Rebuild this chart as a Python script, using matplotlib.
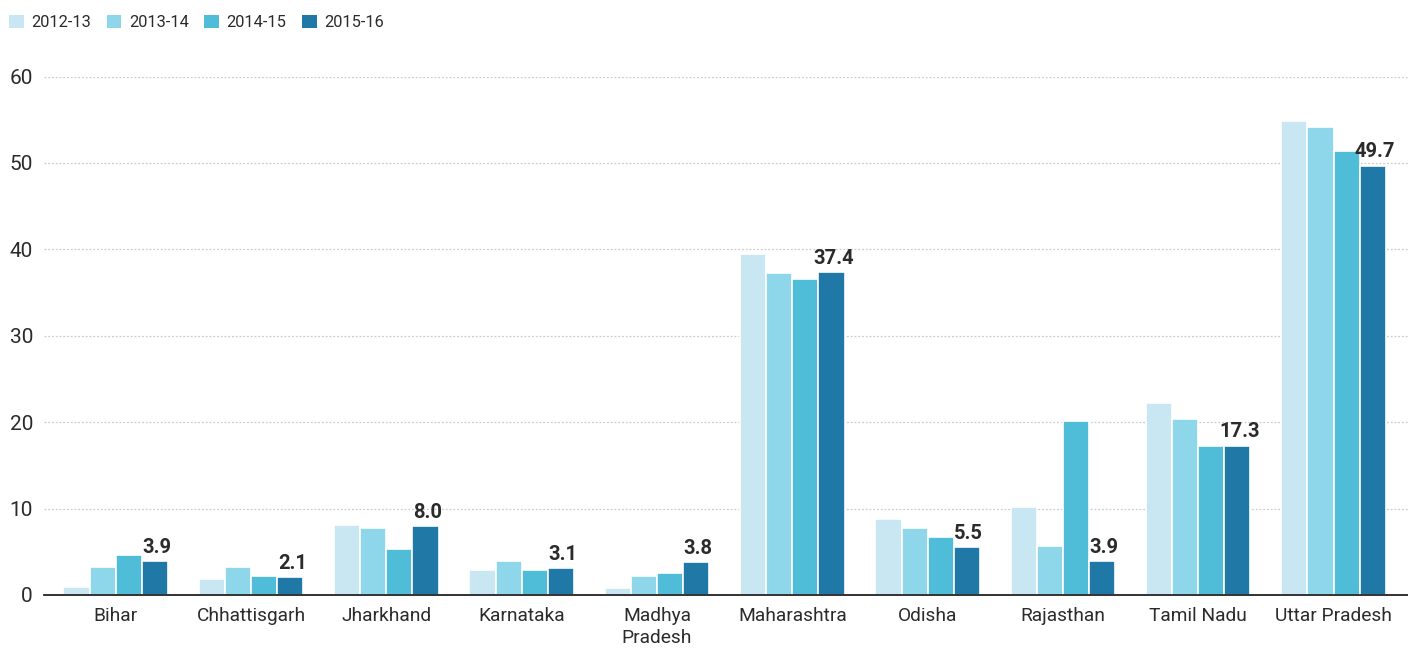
import numpy as np
import matplotlib
matplotlib.use("Agg")
from matplotlib import pyplot as plt
from matplotlib.patches import Patch

plt.rcParams['font.family'] = ['Roboto', 'DejaVu Sans']

states = ['Bihar', 'Chhattisgarh', 'Jharkhand', 'Karnataka', 'Madhya\nPradesh',
          'Maharashtra', 'Odisha', 'Rajasthan', 'Tamil Nadu', 'Uttar Pradesh']
years = ['2012-13', '2013-14', '2014-15', '2015-16']

v2012 = [0.9, 1.9, 8.1, 2.9, 0.8, 39.5, 8.8, 10.2, 22.2, 54.9]
v2013 = [3.2, 3.2, 7.8, 3.9, 2.2, 37.3, 7.8, 5.7, 20.4, 54.2]
v2014 = [4.6, 2.2, 5.3, 2.9, 2.5, 36.6, 6.7, 20.1, 17.3, 51.4]
v2015 = [3.9, 2.1, 8.0, 3.1, 3.8, 37.4, 5.5, 3.9, 17.3, 49.7]

colors = ['#c8e7f2', '#8ed6ea', '#4fbdd8', '#1f78a6']
txt = '#2b2b2b'

fig = plt.figure(figsize=(14.08, 6.48), dpi=100)
ax = fig.add_axes([0.03125, 0.0818, 0.96875, 0.8])

x = np.arange(len(states))
w = 0.193
series = [v2012, v2013, v2014, v2015]
for i, vals in enumerate(series):
    ax.bar(x + (i - 1.5) * w, vals, w, color=colors[i], edgecolor='white',
           linewidth=1.2, zorder=3)

# label the latest year
for xi, v in zip(x, v2015):
    ax.text(xi + 1.5 * w + 0.015, v + 0.5, f'{v:.1f}', ha='center', va='bottom',
            fontsize=14.5, fontweight='bold', color=txt, zorder=4)

ax.set_ylim(0, 60)
ax.set_xlim(-0.53, 9.55)
ax.set_yticks([0, 10, 20, 30, 40, 50, 60])
ax.set_xticks(x)
ax.set_xticklabels(states, fontsize=13.8, color=txt, linespacing=1.25)
ax.tick_params(axis='y', length=0, labelsize=15, colors=txt, pad=8)
ax.tick_params(axis='x', length=0, colors=txt, pad=9)
ax.grid(axis='y', color='#cccccc', linestyle=(0, (1.5, 1.5)), linewidth=0.9, zorder=0)
for s in ['top', 'right', 'left']:
    ax.spines[s].set_visible(False)
ax.spines['bottom'].set_color('#222222')
ax.spines['bottom'].set_linewidth(1.3)
ax.spines['bottom'].set_zorder(5)

handles = [Patch(facecolor=c, edgecolor='none') for c in colors]
fig.legend(handles, years, loc='upper left', bbox_to_anchor=(-0.004, 1.0), ncol=4,
           frameon=False, fontsize=11.8, handlelength=0.9, handleheight=0.9,
           handletextpad=0.45, columnspacing=0.95, labelcolor=txt)

fig.savefig('out.png', dpi=100)
